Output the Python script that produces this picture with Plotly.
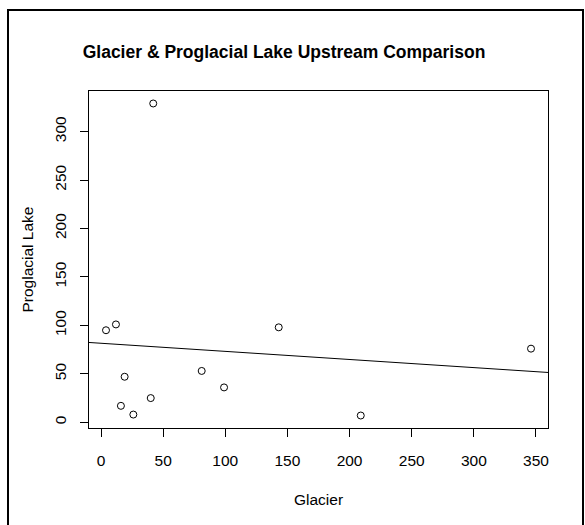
import numpy as np
import plotly.graph_objects as go

# 数据：冰川 vs 前冰川湖（上游对比）
glacier = [4, 12, 42, 19, 16, 26, 40, 81, 99, 143, 209, 346]
proglacial = [95, 101, 329, 47, 17, 8, 25, 53, 36, 98, 7, 76]
x_ticks = [0, 50, 100, 150, 200, 250, 300, 350]
y_ticks = [0, 50, 100, 150, 200, 250, 300]

W, H = 585, 525
L, R, T, B = 89, 37, 91, 97
PW, PH = W - L - R, H - T - B


def px_x(p):
    return (p - L) / PW


def px_y(p):
    return (H - B - p) / PH


# R 风格的 4% 轴扩展
def r_range(v):
    lo, hi = min(v), max(v)
    pad = (hi - lo) * 0.04
    return [lo - pad, hi + pad]


xr = r_range(glacier)
yr = r_range(proglacial)

# 线性回归
slope, intercept = np.polyfit(glacier, proglacial, 1)
line_x = np.array(xr)
line_y = intercept + slope * line_x

FONT = 'Liberation Sans, Arial, sans-serif'

fig = go.Figure()

fig.add_trace(go.Scatter(
    x=glacier,
    y=proglacial,
    mode='markers',
    marker=dict(symbol='circle-open', size=7, color='black', line=dict(width=1, color='black')),
    showlegend=False,
))

fig.add_trace(go.Scatter(
    x=line_x,
    y=line_y,
    mode='lines',
    line=dict(color='black', width=1),
    showlegend=False,
))

axis_common = dict(
    showgrid=False,
    zeroline=False,
    showline=True,
    mirror=True,
    linecolor='black',
    linewidth=1,
    ticks='outside',
    ticklen=8,
    tickwidth=1,
    tickcolor='black',
    tickfont=dict(family=FONT, size=15.5, color='black'),
)

fig.update_layout(
    width=W,
    height=H,
    margin=dict(l=L, r=R, t=T, b=B),
    paper_bgcolor='white',
    plot_bgcolor='white',
    font=dict(family=FONT, color='black'),
    title=dict(
        text='<b>Glacier & Proglacial Lake Upstream Comparison</b>',
        font=dict(family=FONT, size=17.5, color='black'),
        xref='paper', x=px_x(284), xanchor='center',
        yref='container', y=1 - 52 / H, yanchor='middle',
    ),
    xaxis=dict(range=xr, tickvals=x_ticks, ticklabelstandoff=10, **axis_common),
    yaxis=dict(range=yr, tickvals=y_ticks, tickangle=-90, ticklabelstandoff=8, **axis_common),
    annotations=[
        dict(text='Glacier', xref='paper', yref='paper', x=0.5, y=px_y(499),
             xanchor='center', yanchor='middle', showarrow=False,
             font=dict(family=FONT, size=15.5, color='black')),
        dict(text='Proglacial Lake', xref='paper', yref='paper', x=px_x(27), y=0.5,
             xanchor='center', yanchor='middle', textangle=-90, showarrow=False,
             font=dict(family=FONT, size=15.5, color='black')),
    ],
    shapes=[
        dict(type='rect', xref='paper', yref='paper',
             x0=px_x(8), x1=px_x(583), y0=px_y(545), y1=px_y(10),
             line=dict(color='black', width=2), fillcolor='rgba(0,0,0,0)', layer='above'),
    ],
)

# 去掉页面默认边距，让图正好铺满窗口
fig.write_html(
    "out.html",
    config={'displayModeBar': False},
    post_script="document.body.style.margin='0';document.body.style.overflow='hidden';",
)
